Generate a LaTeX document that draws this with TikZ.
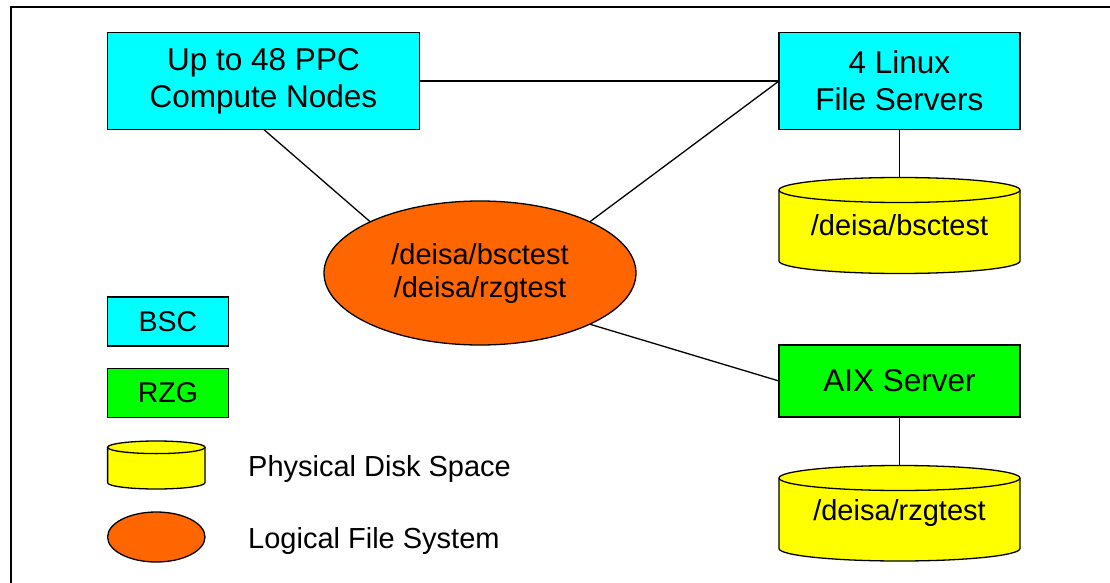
\documentclass[tikz,border=0pt]{standalone}
\usepackage{fontspec}
\setmainfont{Liberation Sans}
\usetikzlibrary{shapes.geometric}
\definecolor{bsc}{RGB}{0,255,255}
\definecolor{rzg}{RGB}{0,255,0}
\definecolor{disk}{RGB}{255,255,0}
\definecolor{lfs}{RGB}{255,102,0}
\tikzset{
  box/.style={draw=black, line width=1.3pt, rectangle, inner sep=0pt, outer sep=0pt, align=center,
    font=\fontsize{31.5}{37}\selectfont},
  disklabel/.style={rectangle, inner sep=0pt, outer sep=0pt, align=center, font=\fontsize{29}{33}\selectfont},
  cyl/.style={draw=black, line width=1.3pt, fill=disk},
  lfsnode/.style={draw=black, line width=1.3pt, fill=lfs, ellipse, inner sep=0pt, outer sep=0pt, align=center,
    font=\fontsize{29}{33}\selectfont},
  legtext/.style={anchor=west, inner sep=0pt, font=\fontsize{29}{33}\selectfont},
  conn/.style={draw=black, line width=1.3pt}
}
\begin{document}
\begin{tikzpicture}[x=1pt,y=1pt]
\useasboundingbox (0,0) rectangle (1110,-583);
\clip (0,0) rectangle (1110,-583);
\fill[white] (0,0) rectangle (1110,-583);
\draw[line width=2pt] (10.5,-7.5) rectangle (1130,-600);

% main boxes
\node[box, fill=bsc, minimum width=312pt, minimum height=96.5pt] (cn) at (263.5,-81) {Up to 48 PPC\\Compute Nodes};
\node[box, fill=bsc, minimum width=241pt, minimum height=96.5pt] (lx) at (899.5,-81) {4 Linux\\File Servers};
\node[box, fill=rzg, minimum width=241pt, minimum height=72pt] (aix) at (899.5,-381) {AIX Server};

% logical file system
\node[lfsnode, minimum width=312pt, minimum height=144pt] (lfs) at (480,-273) {/deisa/bsctest\\/deisa/rzgtest};

% disk 1
\fill[disk] (779,-190) -- (779,-261) arc[start angle=180,end angle=360,x radius=120.5,y radius=12.5] -- (1020,-190) arc[start angle=0,end angle=180,x radius=120.5,y radius=12.5] -- cycle;
\draw[cyl, fill=none] (779,-190) -- (779,-261) arc[start angle=180,end angle=360,x radius=120.5,y radius=12.5] -- (1020,-190);
\draw[cyl] (899.5,-190) ellipse[x radius=120.5,y radius=12.5];
\node[disklabel, minimum width=241pt, minimum height=96pt] (d1) at (899.5,-225.5) {/deisa/bsctest};

% disk 2
\fill[disk] (779,-478) -- (779,-548.5) arc[start angle=180,end angle=360,x radius=120.5,y radius=12.5] -- (1020,-478) arc[start angle=0,end angle=180,x radius=120.5,y radius=12.5] -- cycle;
\draw[cyl, fill=none] (779,-478) -- (779,-548.5) arc[start angle=180,end angle=360,x radius=120.5,y radius=12.5] -- (1020,-478);
\draw[cyl] (899.5,-478) ellipse[x radius=120.5,y radius=12.5];
\node[disklabel, minimum width=241pt, minimum height=95pt] (d2) at (899.5,-513) {/deisa/rzgtest};

% connectors
\draw[conn] (cn.east) -- (lx.west);
\draw[conn] (cn.south) -- (lfs.155);
\draw[conn] (lfs.25) -- (lx.west);
\draw[conn] (lfs.-25) -- (aix.west);
\draw[conn] (lx.south) -- (d1.north);
\draw[conn] (aix.south) -- (d2.north);

% legend
\node[box, fill=bsc, minimum width=120.5pt, minimum height=49pt, font=\fontsize{28.5}{32}\selectfont] (lbsc) at (168,-321.5) {BSC};
\node[box, fill=rzg, minimum width=120.5pt, minimum height=48.5pt, font=\fontsize{28.5}{32}\selectfont] (lrzg) at (168,-393) {RZG};

\fill[disk] (107.6,-447.3) -- (107.6,-482.7) arc[start angle=180,end angle=360,x radius=48.7,y radius=6.3] -- (205,-447.3) arc[start angle=0,end angle=180,x radius=48.7,y radius=6.3] -- cycle;
\draw[cyl, fill=none] (107.6,-447.3) -- (107.6,-482.7) arc[start angle=180,end angle=360,x radius=48.7,y radius=6.3] -- (205,-447.3);
\draw[cyl] (156.3,-447.3) ellipse[x radius=48.7,y radius=6.3];
\node[legtext] (tdisk) at (248,-469) {Physical Disk Space};

\node[lfsnode, minimum width=97.4pt, minimum height=50pt] (llfs) at (156.3,-537) {};
\node[legtext] (tlfs) at (248,-541) {Logical File System};
\end{tikzpicture}
\end{document}
